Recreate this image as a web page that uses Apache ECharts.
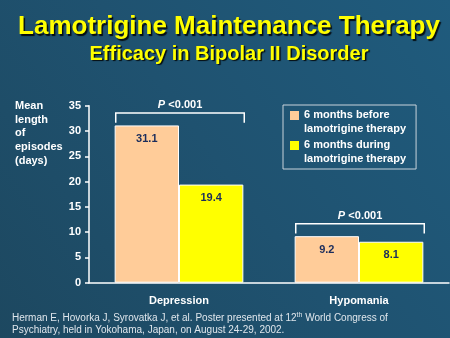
<!DOCTYPE html>
<html>
<head>
<meta charset="utf-8">
<script src="https://cdn.jsdelivr.net/npm/echarts@6/dist/echarts.min.js"></script>
<style>
  html, body { margin: 0; padding: 0; }
  #chart { width: 450px; height: 338px; }
</style>
</head>
<body>
<div id="chart"></div>
<script>
// Mean length of mood episodes (days), before vs. during lamotrigine
const categories = ['Depression', 'Hypomania'];
const seriesNames = ['6 months before\nlamotrigine therapy', '6 months during\nlamotrigine therapy'];
const beforeValues = [31.1, 9.2];
const duringValues = [19.4, 8.1];
const pLabels = ['<0.001', '<0.001'];
const yTicks = { min: 0, max: 35, interval: 5 };

const FONT = 'Liberation Sans, Arial, sans-serif';
const chart = echarts.init(document.getElementById('chart'), null, { renderer: 'canvas' });

// significance brackets spanning both bars of each category
const bracketData = categories.map((c, i) => [i, Math.max(beforeValues[i], duringValues[i]), pLabels[i]]);

function renderBracket(params, api) {
  const idx = api.value(0);
  const top = api.value(1);
  const center = api.coord([idx, 0]);
  const band = api.size([1, 0])[0];
  const half = band * 0.357;
  const x0 = center[0] - half + 1;
  const x1 = center[0] + half + 1;
  const yTop = api.coord([idx, top + 2.45])[1];
  const yLeg = api.coord([idx, top + 0.55])[1];
  return {
    type: 'group',
    children: [
      {
        type: 'polyline',
        shape: { points: [[x0, yLeg], [x0, yTop], [x1, yTop], [x1, yLeg]] },
        style: { stroke: '#ffffff', lineWidth: 1.5, fill: null }
      },
      {
        type: 'text',
        x: (x0 + x1) / 2,
        y: yTop - 8,
        style: {
          text: '{i|P} {n|' + pLabels[idx] + '}',
          align: 'center',
          verticalAlign: 'middle',
          rich: {
            i: { fontFamily: FONT, fontStyle: 'italic', fontWeight: 'bold', fontSize: 11, fill: '#ffffff' },
            n: { fontFamily: FONT, fontWeight: 'bold', fontSize: 11, fill: '#ffffff' }
          }
        }
      }
    ]
  };
}

const titleShadow = { textShadowColor: 'rgba(0,0,0,0.85)', textShadowOffsetX: 1.5, textShadowOffsetY: 1.5, textShadowBlur: 1 };

// swatch sits beside the first line of each two-line legend entry
const swatchIcon = 'path://M0,0L0.01,0M0,3H9V12H0ZM0,28L0.01,28';

chart.setOption({
  backgroundColor: {
    type: 'linear', x: 1, y: 0, x2: 0, y2: 1,
    colorStops: [
      { offset: 0, color: '#1f5b7d' },
      { offset: 0.5, color: '#1f5270' },
      { offset: 1, color: '#1d4860' }
    ]
  },
  title: [
    {
      text: 'Lamotrigine Maintenance Therapy',
      left: 224, top: 9, textAlign: 'center',
      textStyle: Object.assign({ color: '#ffff00', fontFamily: FONT, fontWeight: 'bold', fontSize: 26 }, titleShadow)
    },
    {
      text: 'Efficacy in Bipolar II Disorder',
      left: 224, top: 39, textAlign: 'center',
      textStyle: Object.assign({ color: '#ffff00', fontFamily: FONT, fontWeight: 'bold', fontSize: 20 }, titleShadow)
    }
  ],
  legend: {
    data: seriesNames,
    orient: 'vertical',
    left: 283, top: 105,
    padding: [3, 10, 3, 7],
    itemGap: 2,
    itemWidth: 9, itemHeight: 28,
    icon: swatchIcon,
    itemStyle: { borderWidth: 0 },
    borderColor: '#c9d3db', borderWidth: 1,
    selectedMode: false,
    textStyle: { color: '#ffffff', fontFamily: FONT, fontWeight: 'bold', fontSize: 11, lineHeight: 14 }
  },
  grid: { left: 89, right: 1, top: 105.7, bottom: 55.3 },
  xAxis: {
    type: 'category',
    data: categories,
    axisLine: { lineStyle: { color: '#ffffff', width: 1.5 } },
    axisTick: { show: false },
    axisLabel: { color: '#ffffff', fontFamily: FONT, fontWeight: 'bold', fontSize: 11, margin: 13 }
  },
  yAxis: {
    type: 'value',
    min: yTicks.min, max: yTicks.max, interval: yTicks.interval,
    splitLine: { show: false },
    axisLine: { show: true, lineStyle: { color: '#ffffff', width: 1.5 } },
    axisTick: { show: true, length: 4, lineStyle: { color: '#ffffff', width: 1.5 } },
    axisLabel: { color: '#ffffff', fontFamily: FONT, fontWeight: 'bold', fontSize: 11, margin: 8 }
  },
  series: [
    {
      name: seriesNames[0],
      type: 'bar',
      data: beforeValues,
      barGap: '0%',
      barCategoryGap: '28.5%',
      itemStyle: { color: '#ffcc99', borderColor: '#ffffff', borderWidth: 1 },
      label: {
        show: true, position: 'insideTop', distance: 8,
        color: '#1b2d5c', fontFamily: FONT, fontWeight: 'bold', fontSize: 11
      }
    },
    {
      name: seriesNames[1],
      type: 'bar',
      data: duringValues,
      itemStyle: { color: '#ffff00', borderColor: '#ffffff', borderWidth: 1 },
      label: {
        show: true, position: 'insideTop', distance: 8,
        color: '#1b2d5c', fontFamily: FONT, fontWeight: 'bold', fontSize: 11
      }
    },
    {
      type: 'custom',
      renderItem: renderBracket,
      data: bracketData,
      z: 5,
      silent: true
    }
  ],
  graphic: [
    {
      type: 'text', left: 15, top: 99,
      style: {
        text: 'Mean\nlength\nof\nepisodes\n(days)',
        fill: '#ffffff', fontFamily: FONT, fontWeight: 'bold', fontSize: 11, lineHeight: 13.7
      }
    },
    {
      type: 'text', left: 12, top: 311.5,
      style: {
        text: 'Herman E, Hovorka J, Syrovatka J, et al. Poster presented at 12{s|th} World Congress of\nPsychiatry, held in Yokohama, Japan, on August 24-29, 2002.',
        fill: '#dfe6ec', fontFamily: FONT, fontSize: 10, lineHeight: 12.7,
        rich: { s: { fontFamily: FONT, fontSize: 7, fill: '#dfe6ec', verticalAlign: 'top', padding: [0, 0, 4, 0] } }
      }
    }
  ]
});
</script>
</body>
</html>
